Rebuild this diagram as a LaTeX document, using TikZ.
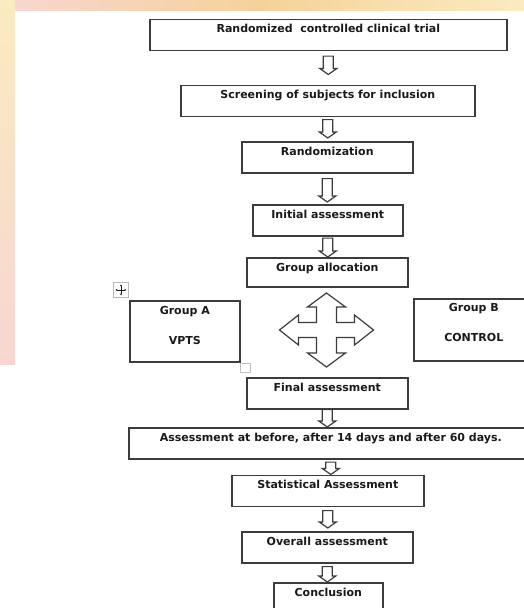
\documentclass[tikz,border=0pt]{standalone}
\usepackage{fontspec}
\setmainfont{DejaVu Sans}
\usetikzlibrary{calc,arrows.meta}
\definecolor{edge}{HTML}{3C3C3C}
\definecolor{txt}{HTML}{1A1A1A}
\definecolor{wmpink}{HTML}{F7D6D2}
\definecolor{wmyellow}{HTML}{FAEBC0}
\definecolor{wmorange}{HTML}{F5D29A}
\newcommand\harr[4]{%
  \draw[harrow] let \p1=(#1.south), \p2=(#2.north) in
    (\x1-5pt,\y1-#3pt) -- (\x1+5pt,\y1-#3pt) -- (\x1+5pt,\y2+#4pt+6pt)
    -- (\x1+8.5pt,\y2+#4pt+6pt) -- (\x1,\y2+#4pt) -- (\x1-8.5pt,\y2+#4pt+6pt)
    -- (\x1-5pt,\y2+#4pt+6pt) -- cycle;}
\begin{document}
\begin{tikzpicture}[x=1pt,y=-1pt,
  box/.style={draw=edge, line width=1.6pt, fill=white, inner xsep=0pt, inner ysep=0pt,
    text height=13.5pt, text depth=17.5pt, font=\bfseries\fontsize{11}{13}\selectfont,
    text=txt, anchor=north west},
  lbl/.style={inner sep=0pt, font=\bfseries\fontsize{11}{13}\selectfont, text=txt, anchor=base},
  harrow/.style={draw=edge, line width=1.2pt, fill=white, line join=miter},
]
\clip (0,0) rectangle (524,608);
\fill[white] (0,0) rectangle (524,608);
\shade[left color=wmpink, right color=wmyellow, middle color=wmorange] (0,0) rectangle (524,10.5);
\shade[top color=wmyellow, bottom color=wmpink] (0,0) rectangle (15,364);

% boxes
\node[box, minimum width=357pt] (b1) at (149,18.5) {Randomized\ \ controlled clinical trial};
\node[box, minimum width=294pt] (b2) at (180,84.5) {Screening of subjects for inclusion};
\node[box, minimum width=171pt] (b3) at (241,141) {Randomization};
\node[box, minimum width=150pt] (b4) at (252,204) {Initial assessment};
\node[box, minimum width=161pt, text depth=15.5pt] (b5) at (246,257) {Group allocation};
\node[box, minimum width=110pt, text depth=47.5pt] (gA) at (129,300) {Group A};
\node[lbl] (gAt) at ([yshift=-44pt]gA.north) {VPTS};
\node[box, minimum width=120pt, text height=13pt, text depth=49pt] (gB) at (413,298) {Group B};
\node[lbl] (gBt) at ([yshift=-43pt]gB.north) {CONTROL};
\node[box, minimum width=161pt] (fin) at (246,377) {Final assessment};
\node[box, minimum width=404pt] (ass) at (128,427) {Assessment at before, after 14 days and after 60 days.};
\node[box, minimum width=192pt] (stat) at (231,474.5) {Statistical Assessment};
\node[box, minimum width=171pt] (over) at (241,531) {Overall assessment};
\node[box, minimum width=109pt, text depth=60pt] (conc) at (273,582) {Conclusion};

% word artefacts
\node[draw=gray!55, line width=0.8pt, fill=white, minimum size=15pt, inner sep=0pt, anchor=north west] (mv) at (113,282) {};
\draw[gray!20!black, line width=0.5pt, {Stealth[length=2pt,width=2pt]}-{Stealth[length=2pt,width=2pt]}]
  ([yshift=5.5pt]mv.center) -- ([yshift=-5.5pt]mv.center);
\draw[gray!20!black, line width=0.5pt, {Stealth[length=2pt,width=2pt]}-{Stealth[length=2pt,width=2pt]}]
  ([xshift=-5.5pt]mv.center) -- ([xshift=5.5pt]mv.center);
\node[draw=gray!50, line width=0.8pt, fill=white, minimum size=9.5pt, inner sep=0pt, anchor=north west] (sq) at (240,362.5) {};

% down arrows
\harr{b1}{b2}{5}{10}
\harr{b2}{b3}{2.5}{3}
\harr{b3}{b4}{5}{2}
\harr{b4}{b5}{1.5}{0}
\harr{fin}{ass}{0}{0}
\harr{ass}{stat}{2.5}{0}
\harr{stat}{over}{3.5}{3}
\harr{over}{conc}{3}{0}

% four-way arrow
\coordinate (q) at (326.5,330);
\draw[harrow, shift={(q)}]
  (0,-37) -- (19,-23) -- (10,-23) -- (10,-7.5) -- (28,-7.5) -- (28,-15) -- (47,0)
  -- (28,15) -- (28,7.5) -- (10,7.5) -- (10,23) -- (19,23) -- (0,37) -- (-19,23)
  -- (-10,23) -- (-10,7.5) -- (-28,7.5) -- (-28,15) -- (-47,0) -- (-28,-15)
  -- (-28,-7.5) -- (-10,-7.5) -- (-10,-23) -- (-19,-23) -- cycle;
\end{tikzpicture}
\end{document}
